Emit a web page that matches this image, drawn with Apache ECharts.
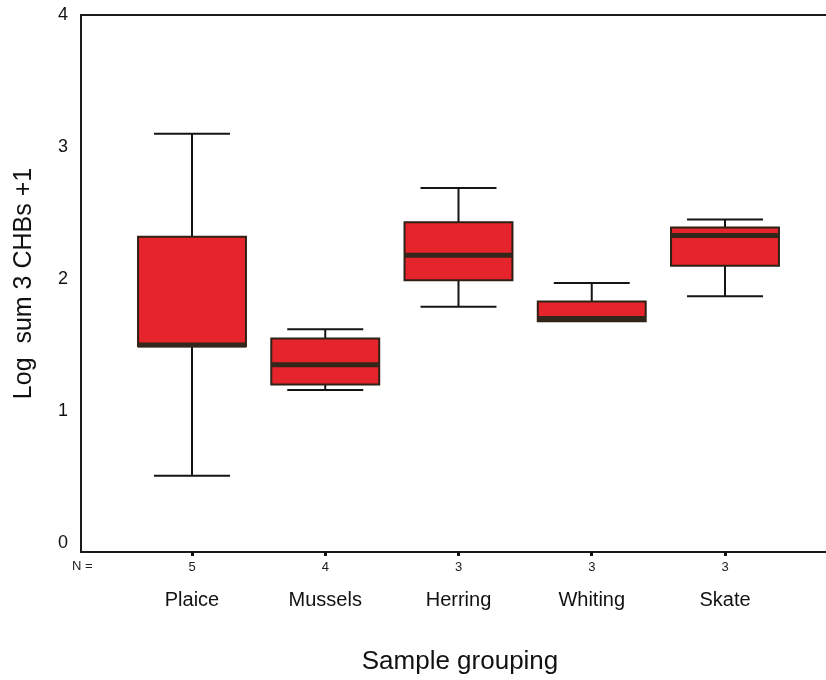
<!DOCTYPE html>
<html>
<head>
<meta charset="utf-8">
<script src="https://cdn.jsdelivr.net/npm/echarts@6/dist/echarts.min.js"></script>
<style>
  html, body { margin: 0; padding: 0; background: #ffffff; }
  #chart { width: 826px; height: 680px; }
</style>
</head>
<body>
<div id="chart"></div>
<script>
// Log sum of 3 CHBs (+1) by sample group
const categories = ['Plaice', 'Mussels', 'Herring', 'Whiting', 'Skate'];
const sampleCounts = [5, 4, 3, 3, 3];
const whiskerLow  = [0.51, 1.16, 1.79, 1.68, 1.87];
const quartile1   = [1.49, 1.20, 1.99, 1.68, 2.10];
const medians     = [1.50, 1.35, 2.18, 1.70, 2.33];
const quartile3   = [2.32, 1.55, 2.43, 1.83, 2.39];
const whiskerHigh = [3.10, 1.62, 2.69, 1.97, 2.45];
const yTicks = [0, 1, 2, 3, 4];

const FONT = '"Liberation Sans", Arial, sans-serif';
const categoryIndex = categories.map((_, i) => i);

const boxData = categories.map((_, i) => [
  i, whiskerLow[i], quartile1[i], medians[i], quartile3[i], whiskerHigh[i]
]);

function renderBox(params, api) {
  const x = api.value(0);
  const unit = api.size([1, 0])[0];
  const boxHalf = unit * 0.405;
  const capHalf = unit * 0.285;
  const pLow = api.coord([x, api.value(1)]);
  const pQ1 = api.coord([x, api.value(2)]);
  const pMed = api.coord([x, api.value(3)]);
  const pQ3 = api.coord([x, api.value(4)]);
  const pHigh = api.coord([x, api.value(5)]);
  const cx = pQ1[0];
  const whisker = { stroke: '#141414', lineWidth: 2 };
  const children = [];
  if (pHigh[1] < pQ3[1] - 0.5) {
    children.push({ type: 'line', shape: { x1: cx, y1: pQ3[1], x2: cx, y2: pHigh[1] }, style: whisker });
    children.push({ type: 'line', shape: { x1: cx - capHalf, y1: pHigh[1], x2: cx + capHalf, y2: pHigh[1] }, style: whisker });
  }
  if (pLow[1] > pQ1[1] + 0.5) {
    children.push({ type: 'line', shape: { x1: cx, y1: pQ1[1], x2: cx, y2: pLow[1] }, style: whisker });
    children.push({ type: 'line', shape: { x1: cx - capHalf, y1: pLow[1], x2: cx + capHalf, y2: pLow[1] }, style: whisker });
  }
  children.push({
    type: 'rect',
    shape: { x: cx - boxHalf, y: pQ3[1], width: boxHalf * 2, height: pQ1[1] - pQ3[1] },
    style: { fill: '#e5242b', stroke: '#2e2116', lineWidth: 2 }
  });
  children.push({
    type: 'line',
    shape: { x1: cx - boxHalf, y1: pMed[1], x2: cx + boxHalf, y2: pMed[1] },
    style: { stroke: '#33261a', lineWidth: 5 }
  });
  return { type: 'group', children: children };
}

const chart = echarts.init(document.getElementById('chart'), null, { renderer: 'canvas' });
chart.setOption({
  backgroundColor: '#ffffff',
  animation: false,
  grid: { left: 81, right: 0, top: 15, bottom: 128 },
  xAxis: [
    {
      type: 'value',
      position: 'bottom',
      min: -0.833,
      max: 4.758,
      axisLine: { show: true, onZero: false, lineStyle: { color: '#1a1a1a', width: 2 } },
      axisTick: { show: true, customValues: categoryIndex, length: 4, lineStyle: { color: '#111', width: 3 } },
      axisLabel: {
        show: true,
        customValues: categoryIndex,
        margin: 7,
        formatter: function (v) {
          const i = Math.round(v);
          return '{n|' + sampleCounts[i] + '}\n{c|' + categories[i] + '}';
        },
        rich: {
          n: { fontFamily: FONT, fontSize: 13, color: '#222', lineHeight: 16, align: 'center' },
          c: { fontFamily: FONT, fontSize: 20, color: '#111', lineHeight: 50, align: 'center' }
        }
      },
      splitLine: { show: false },
      name: 'Sample grouping',
      nameLocation: 'middle',
      nameGap: 97,
      nameTextStyle: { fontFamily: FONT, fontSize: 26, color: '#111', padding: [0, 0, 0, 13] }
    },
    {
      type: 'value',
      position: 'top',
      min: -0.833,
      max: 4.758,
      axisLine: { show: true, onZero: false, lineStyle: { color: '#1a1a1a', width: 2 } },
      axisTick: { show: false },
      axisLabel: { show: false },
      splitLine: { show: false }
    }
  ],
  yAxis: {
    type: 'value',
    min: -0.068,
    max: 4,
    axisLine: { show: true, onZero: false, lineStyle: { color: '#1a1a1a', width: 2 } },
    axisTick: { show: false },
    axisLabel: {
      customValues: yTicks,
      margin: 13,
      fontFamily: FONT,
      fontSize: 18,
      color: '#111'
    },
    splitLine: { show: false },
    name: 'Log  sum 3 CHBs +1',
    nameLocation: 'middle',
    nameGap: 44,
    nameTextStyle: { fontFamily: FONT, fontSize: 25, color: '#111', padding: [0, 0, 0, 0] }
  },
  graphic: [
    {
      type: 'text',
      left: 72,
      top: 560,
      style: { text: 'N =', fontFamily: FONT, fontSize: 13, fill: '#222' }
    }
  ],
  series: [
    {
      type: 'custom',
      xAxisIndex: 0,
      yAxisIndex: 0,
      renderItem: renderBox,
      encode: { x: 0, y: [1, 2, 3, 4, 5] },
      data: boxData,
      clip: false
    }
  ]
});
</script>
</body>
</html>
